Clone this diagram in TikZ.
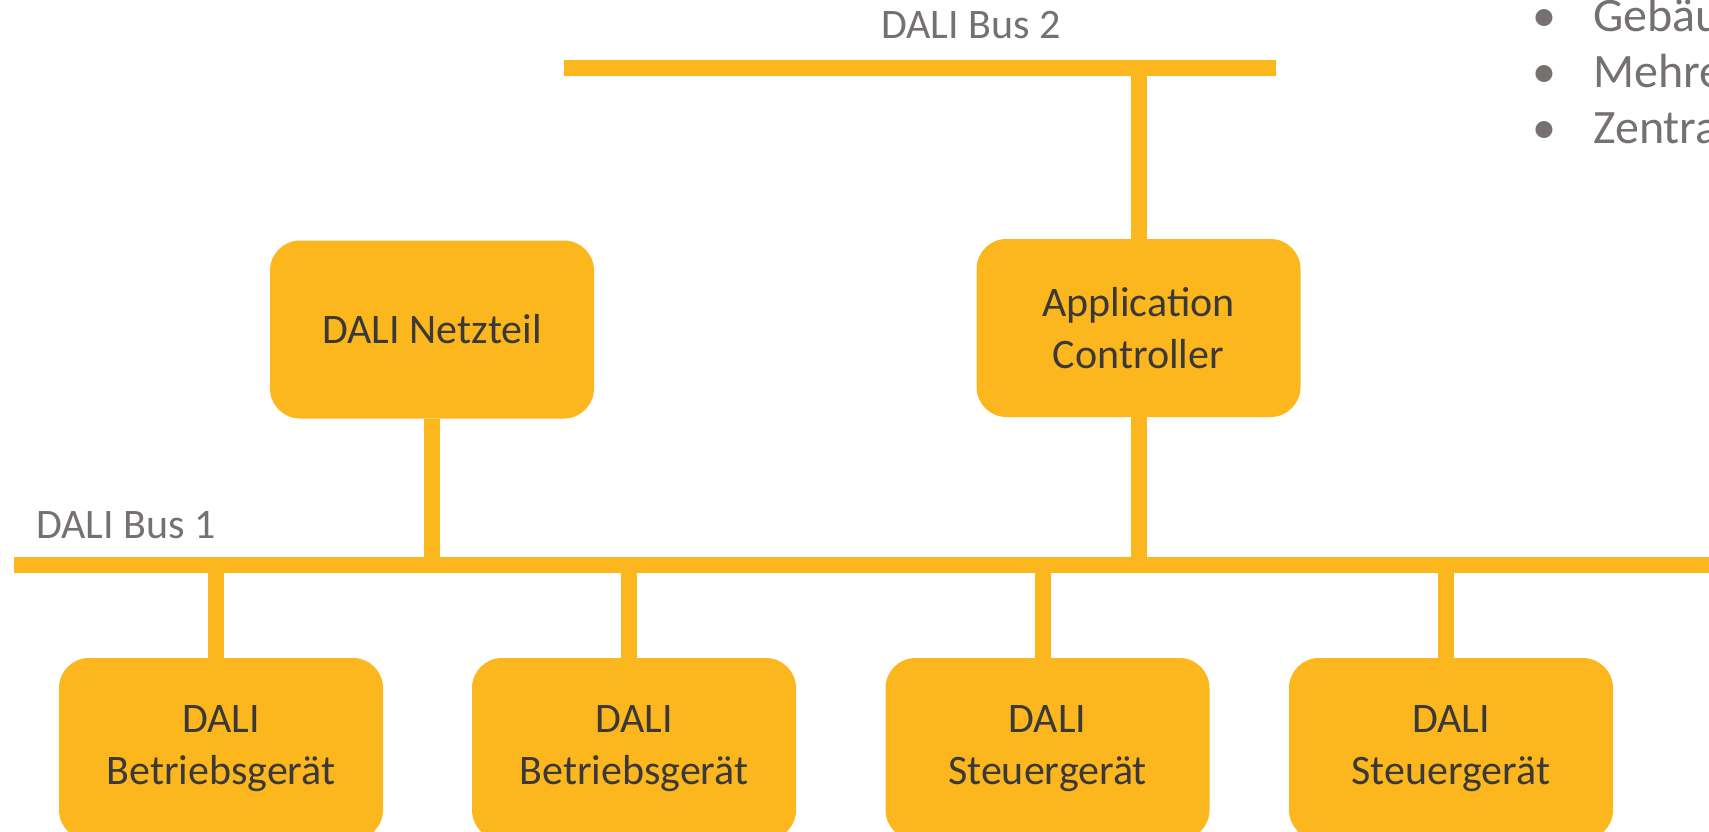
\documentclass[tikz,border=0pt]{standalone}
\usepackage{fontspec}
\setmainfont{Carlito}
\definecolor{daliorange}{HTML}{FDB71E}
\definecolor{boxtext}{HTML}{3B3838}
\definecolor{labelgray}{HTML}{767171}

\begin{document}
\begin{tikzpicture}[x=0.5pt, y=-0.5pt,
  unit/.style={fill=daliorange, rounded corners=15pt, minimum width=162pt,
    minimum height=89pt, align=center, text=boxtext,
    font=\fontsize{21}{26}\selectfont},
  bus/.style={draw=daliorange, line width=8pt},
  buslabel/.style={anchor=base west, inner sep=0pt, text=labelgray,
    font=\fontsize{21}{25}\selectfont},
  bullettext/.style={anchor=base west, inner sep=0pt, text=labelgray,
    font=\fontsize{24}{29}\selectfont}]
\useasboundingbox (0,0) rectangle (1709,831);
\clip (0,0) rectangle (1709,831);

% the two bus lines
\coordinate (bus1w) at (14,565);
\coordinate (bus1e) at (1720,565);
\coordinate (bus2w) at (564,68);
\coordinate (bus2e) at (1276,68);
\draw[bus] (bus1w) -- (bus1e);
\draw[bus] (bus2w) -- (bus2e);
\node (bus1lbl) [buslabel] at (36,538) {DALI Bus 1};
\node (bus2lbl) [buslabel] at (881,38) {DALI Bus 2};

% devices
\node (psu) [unit] at (432,329.5) {DALI Netzteil};
\node (appctrl) [unit] at (1138.5,328) {Application\\Controller};
\node (gear1) [unit, minimum height=91pt] at (221,749) {DALI\\Betriebsgerät};
\node (gear2) [unit, minimum height=91pt] at (634,749) {DALI\\Betriebsgerät};
\node (ctrl1) [unit, minimum height=91pt] at (1047.5,749) {DALI\\Steuergerät};
\node (ctrl2) [unit, minimum height=91pt] at (1451,749) {DALI\\Steuergerät};

% stubs to the buses
\draw[bus] (psu.south) -- (psu.south |- bus1w);
\draw[bus] (appctrl.south) -- (appctrl.south |- bus1w);
\draw[bus] (appctrl.north) -- (appctrl.north |- bus2w);
\draw[bus] ([xshift=-2.5pt]gear1.north) -- ([xshift=-2.5pt]gear1.north |- bus1w);
\draw[bus] ([xshift=-2.5pt]gear2.north) -- ([xshift=-2.5pt]gear2.north |- bus1w);
\draw[bus] ([xshift=-2.5pt]ctrl1.north) -- ([xshift=-2.5pt]ctrl1.north |- bus1w);
\draw[bus] ([xshift=-2.5pt]ctrl2.north) -- ([xshift=-2.5pt]ctrl2.north |- bus1w);

% bullet list, cut off at the right edge as in the slide
\node (dot1) [bullettext] at (1532,31) {•};
\node (dot2) [bullettext] at (1532,87) {•};
\node (dot3) [bullettext] at (1532,143) {•};
\node (item1) [bullettext] at (1593,31) {Gebäu};
\node (item2) [bullettext] at (1593,87) {Mehre};
\node (item3) [bullettext] at (1593,143) {Zentra};
\end{tikzpicture}
\end{document}
